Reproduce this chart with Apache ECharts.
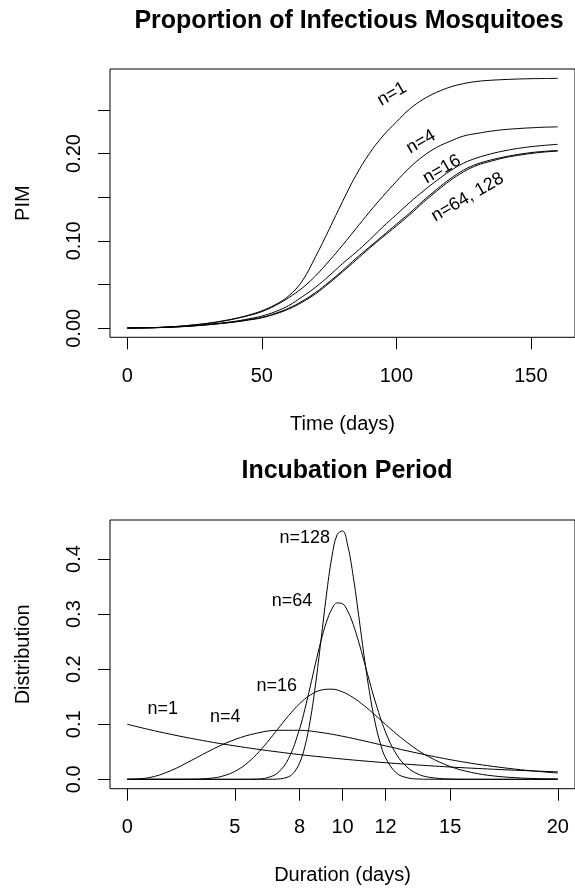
<!DOCTYPE html>
<html><head><meta charset="utf-8">
<script src="https://cdn.jsdelivr.net/npm/echarts@6/dist/echarts.min.js"></script>
<style>html,body{margin:0;padding:0;background:#fff}#c{width:575px;height:894px}</style>
</head><body><div id="c"></div>
<script>
// ---- Top panel: Proportion of Infectious Mosquitoes ----
const days = [0,5,10,15,20,25,30,35,40,45,50,55,60,65,70,75,80,85,90,95,100,105,110,115,120,125,130,135,140,145,150,155,160];
const pimN1   = [0.0003,0.0005,0.0008,0.0015,0.0025,0.004,0.0058,0.0082,0.0112,0.015,0.020,0.027,0.037,0.054,0.082,0.113,0.145,0.175,0.200,0.220,0.236,0.251,0.262,0.270,0.276,0.280,0.2825,0.2838,0.2846,0.2852,0.2856,0.2858,0.286];
const pimN4   = [0.0003,0.0005,0.0008,0.0015,0.0025,0.0039,0.0056,0.0079,0.0108,0.0145,0.019,0.026,0.035,0.046,0.060,0.077,0.095,0.114,0.133,0.151,0.168,0.184,0.197,0.207,0.214,0.220,0.223,0.2255,0.2273,0.2285,0.2294,0.2301,0.2305];
const pimN16  = [0.0003,0.0005,0.0007,0.0013,0.002,0.003,0.0045,0.006,0.008,0.0107,0.014,0.019,0.026,0.036,0.047,0.060,0.074,0.087,0.101,0.116,0.130,0.144,0.157,0.169,0.180,0.189,0.195,0.1995,0.203,0.2057,0.2078,0.2093,0.2105];
const pimN64  = [0.0003,0.0005,0.0007,0.0012,0.0019,0.0029,0.0042,0.0057,0.0075,0.0098,0.0125,0.017,0.023,0.031,0.041,0.053,0.066,0.080,0.093,0.106,0.119,0.132,0.146,0.159,0.171,0.181,0.188,0.1925,0.196,0.1988,0.201,0.2025,0.2034];
const pimN128 = [0.0003,0.0005,0.0007,0.0011,0.0018,0.0028,0.004,0.0055,0.0072,0.0094,0.012,0.0163,0.022,0.0298,0.0395,0.0515,0.0645,0.078,0.0915,0.1045,0.117,0.130,0.144,0.157,0.169,0.179,0.1865,0.191,0.195,0.1978,0.200,0.2017,0.2028];
const timeTicks = [0,50,100,150];
const pimTicks = [0,0.05,0.10,0.15,0.20,0.25];
const pimLabels = [0,0.10,0.20];

// ---- Bottom panel: Incubation Period ----
const dur1 = [0,1,2,3,4,5,6,7,8,9,10,11,12,13,14,15,16,17,18,19,20];
const incN1 = [0.1,0.0905,0.0819,0.0741,0.067,0.0607,0.0549,0.0497,0.0449,0.0407,0.0368,0.0333,0.0301,0.0273,0.0247,0.0223,0.0202,0.0183,0.0165,0.015,0.0135];
const incN4 = [0,0.0029,0.0153,0.0347,0.0551,0.0722,0.0836,0.089,0.089,0.085,0.0782,0.0697,0.0607,0.0517,0.0433,0.0357,0.029,0.0234,0.0186,0.0146,0.0114];
const dur16 = [0,1,2,3,4,4.5,5,5.5,6,6.5,7,7.5,8,8.5,9,9.5,10,10.5,11,11.5,12,12.5,13,13.5,14,15,16,17,18,19,20];
const incN16 = [0,0,0.000002,0.00017,0.0025,0.0066,0.0144,0.0271,0.0449,0.0671,0.0916,0.1158,0.137,0.1529,0.1619,0.1637,0.1588,0.1483,0.1339,0.1172,0.0997,0.0826,0.0669,0.0529,0.041,0.0233,0.0124,0.0062,0.003,0.0013,0.0006];
const dur64 = [0,2,4,5,5.5,6,6.5,7,7.5,8,8.25,8.5,8.75,9,9.25,9.5,9.75,10,10.25,10.5,10.75,11,11.25,11.5,12,12.5,13,13.5,14,15,16,18,20];
const incN64 = [0,0,0,0,0.00005,0.0004,0.0028,0.0121,0.0381,0.0906,0.1271,0.1683,0.211,0.2513,0.2851,0.3089,0.3203,0.3187,0.3049,0.2809,0.2497,0.2146,0.1785,0.1439,0.0857,0.0457,0.0221,0.0097,0.0039,0.0005,0.00005,0,0];
const dur128 = [0,2,4,6,6.5,7,7.5,7.75,8,8.25,8.5,8.75,9,9.25,9.5,9.75,10,10.25,10.5,10.75,11,11.25,11.5,11.75,12,12.5,13,13.5,14,16,18,20];
const incN128 = [0,0,0,0,0.00002,0.0005,0.0048,0.0127,0.0291,0.0591,0.1068,0.1729,0.2522,0.3337,0.4023,0.4442,0.451,0.4231,0.3679,0.2978,0.2249,0.1591,0.1058,0.0662,0.0391,0.0116,0.0028,0.0006,0.0001,0,0,0];
const durTicks = [0,5,8,10,12,15,20];
const distTicks = [0,0.1,0.2,0.3,0.4];

// ---- Curve annotations (data coordinates) ----
const topNotes = [
  {text:'n=1', x:98.4, y:0.268},
  {text:'n=4', x:109.2, y:0.2135},
  {text:'n=16', x:116.9, y:0.182},
  {text:'n=64, 128', x:126.5, y:0.150}
];
const bottomNotes = [
  {text:'n=128', x:8.25, y:0.439},
  {text:'n=64', x:7.65, y:0.324},
  {text:'n=16', x:6.95, y:0.170},
  {text:'n=1', x:1.65, y:0.128},
  {text:'n=4', x:4.55, y:0.1126}
];

const FONT = "'Liberation Sans', Arial, Helvetica, sans-serif";
const pairs = (xs, ys) => xs.map((x, i) => [x, ys[i]]);

function line(name, xs, ys, idx) {
  return {
    name, type: 'line', xAxisIndex: idx, yAxisIndex: idx,
    data: pairs(xs, ys), smooth: 0.4, showSymbol: false, symbol: 'none',
    lineStyle: {color: '#000', width: 1}, silent: true, clip: true
  };
}

function xAx(idx, min, max, ticks, name) {
  return {
    type: 'value', gridIndex: idx, min, max,
    axisLine: {show: false, onZero: false}, splitLine: {show: false},
    axisTick: {show: true, inside: false, length: 12, customValues: ticks, lineStyle: {color: '#000', width: 1}},
    axisLabel: {customValues: ticks, fontSize: 20, color: '#000', fontFamily: FONT, margin: 29},
    name, nameLocation: 'middle', nameGap: 77,
    nameTextStyle: {fontSize: 20, color: '#000', fontFamily: FONT}
  };
}
function yAx(idx, min, max, ticks, labels, dec, name) {
  return {
    type: 'value', gridIndex: idx, min, max,
    axisLine: {show: false, onZero: false}, splitLine: {show: false},
    axisTick: {show: true, inside: false, length: 12, customValues: ticks, lineStyle: {color: '#000', width: 1}},
    axisLabel: {customValues: labels, rotate: 90, fontSize: 20, color: '#000', fontFamily: FONT, margin: 26,
      formatter: v => Number(v).toFixed(dec)},
    name, nameLocation: 'middle', nameGap: 77,
    nameTextStyle: {fontSize: 20, color: '#000', fontFamily: FONT}
  };
}

const chart = echarts.init(document.getElementById('c'), null, {renderer: 'canvas'});
chart.setOption({
  animation: false,
  backgroundColor: '#fff',
  grid: [
    {left: 110, top: 69, width: 467.5, height: 268.3, show: true, borderColor: '#000', borderWidth: 1, backgroundColor: 'transparent'},
    {left: 110, top: 520, width: 467.5, height: 268.7, show: true, borderColor: '#000', borderWidth: 1, backgroundColor: 'transparent'}
  ],
  xAxis: [
    xAx(0, -6.4, 166.4, timeTicks, 'Time (days)'),
    xAx(1, -0.8, 20.8, durTicks, 'Duration (days)')
  ],
  yAxis: [
    yAx(0, -0.0103, 0.2967, pimTicks, pimLabels, 2, 'PIM'),
    yAx(1, -0.01707, 0.4709, distTicks, distTicks, 1, 'Distribution')
  ],
  series: [
    line('n=1', days, pimN1, 0),
    line('n=4', days, pimN4, 0),
    line('n=16', days, pimN16, 0),
    line('n=64', days, pimN64, 0),
    line('n=128', days, pimN128, 0),
    line('n=1', dur1, incN1, 1),
    line('n=4', dur1, incN4, 1),
    line('n=16', dur16, incN16, 1),
    line('n=64', dur64, incN64, 1),
    line('n=128', dur128, incN128, 1)
  ]
});

const gfx = [
  {type: 'text', x: 349, y: 21, style: {text: 'Proportion of Infectious Mosquitoes', font: 'bold 25px ' + FONT, fill: '#000', textAlign: 'center', textVerticalAlign: 'middle', align: 'center', verticalAlign: 'middle'}},
  {type: 'text', x: 347, y: 471, style: {text: 'Incubation Period', font: 'bold 25px ' + FONT, fill: '#000', textAlign: 'center', textVerticalAlign: 'middle', align: 'center', verticalAlign: 'middle'}}
];
topNotes.forEach(n => {
  const p = chart.convertToPixel({gridIndex: 0}, [n.x, n.y]);
  gfx.push({type: 'text', x: p[0], y: p[1], rotation: Math.PI / 6,
    style: {text: n.text, font: '18px ' + FONT, fill: '#000', textAlign: 'center', textVerticalAlign: 'middle', align: 'center', verticalAlign: 'middle'}});
});
bottomNotes.forEach(n => {
  const p = chart.convertToPixel({gridIndex: 1}, [n.x, n.y]);
  gfx.push({type: 'text', x: p[0], y: p[1],
    style: {text: n.text, font: '18px ' + FONT, fill: '#000', textAlign: 'center', textVerticalAlign: 'middle', align: 'center', verticalAlign: 'middle'}});
});
chart.setOption({graphic: gfx});
</script></body></html>
